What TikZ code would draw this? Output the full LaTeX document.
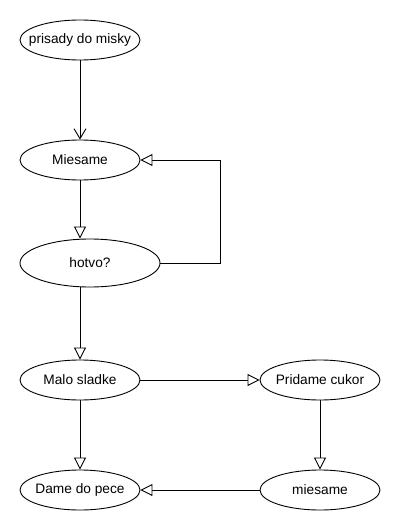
\documentclass[tikz,border=0pt]{standalone}
\usepackage{fontspec}
\setmainfont{Liberation Sans}
\usetikzlibrary{shapes.geometric,arrows.meta}
\newcommand{\lbl}[1]{\makebox[0pt]{#1}}
\tikzset{
  st/.style={draw, ellipse, inner sep=0pt, minimum width=120pt, minimum height=40pt, font=\fontsize{13.7pt}{16pt}\selectfont},
  tri/.style={-{Triangle[open,length=12pt,width=12pt,fill=white]}, line width=0.9pt},
  vee/.style={-{Straight Barb[length=10pt,width=12pt]}, line width=0.9pt}
}
\begin{document}
\begin{tikzpicture}[x=1pt,y=-1pt, every path/.style={line width=0.9pt}]
\useasboundingbox (0,0) rectangle (400,530);
\node[st] (pri) at (80,40) {\lbl{prisady do misky}};
\node[st] (mies) at (80,160) {\lbl{Miesame}};
\node[st, minimum width=140pt, minimum height=48pt] (hot) at (90,263) {\lbl{hotvo?}};
\node[st] (malo) at (80,380) {\lbl{Malo sladke}};
\node[st] (prid) at (320,380) {\lbl{Pridame cukor}};
\node[st] (dame) at (80,490) {\lbl{Dame do pece}};
\node[st] (mi2) at (320,490) {\lbl{miesame}};
\coordinate (c1) at (220,160);
\draw[vee] (pri) -- (mies);
\draw[tri] (mies.south) -- (mies.south |- hot.north);
\draw[tri] (hot.east) -| (c1) -- (mies.east);
\draw[tri] (hot.south -| malo.north) -- (malo.north);
\draw[tri] (malo) -- (prid);
\draw[tri] (prid) -- (mi2);
\draw[tri] (malo) -- (dame);
\draw[tri] (mi2) -- (dame);
\end{tikzpicture}
\end{document}
